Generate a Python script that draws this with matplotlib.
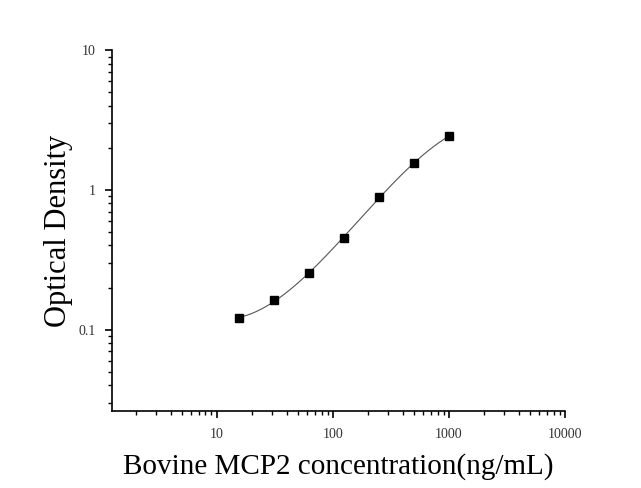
import numpy as np
import matplotlib
matplotlib.use("Agg")
import matplotlib.pyplot as plt
from matplotlib.ticker import LogLocator, FixedLocator, FixedFormatter, NullFormatter

# veriler
konsantrasyon = [15.6, 31.25, 62.5, 125, 250, 500, 1000]
od_degerleri = [0.121, 0.163, 0.253, 0.452, 0.895, 1.556, 2.42]

x_ticks = [10, 100, 1000, 10000]
x_tick_labels = ["10", "100", "1000", "10000"]
y_ticks = [0.1, 1, 10]
y_tick_labels = ["0.1", "1", "10"]

plt.rcParams["font.family"] = ["Liberation Serif", "DejaVu Serif"]

fig = plt.figure(figsize=(6.41, 4.88), dpi=100)
ax = fig.add_axes([112.3 / 641, 1 - 411 / 488, (565 - 112.3) / 641, (411 - 50.3) / 488])

# log-log uzayda yumuşak eğri (3. derece polinom uydurma)
lx = np.log10(konsantrasyon)
ly = np.log10(od_degerleri)
katsayi = np.polyfit(lx, ly, 3)
xx = np.linspace(lx.min(), lx.max(), 200)
ax.plot(10 ** xx, 10 ** np.polyval(katsayi, xx), color="#555555", linewidth=0.8)

ax.plot(konsantrasyon, od_degerleri, "s", color="black", markersize=6.2)

ax.set_xscale("log")
ax.set_yscale("log")
ax.set_xlim(1.26, 10000)
ax.set_ylim(0.0261, 10)

ax.xaxis.set_major_locator(FixedLocator(x_ticks))
ax.xaxis.set_major_formatter(FixedFormatter(x_tick_labels))
ax.yaxis.set_major_locator(FixedLocator(y_ticks))
ax.yaxis.set_major_formatter(FixedFormatter(y_tick_labels))
ax.xaxis.set_minor_locator(LogLocator(base=10, subs=np.arange(2, 10)))
ax.yaxis.set_minor_locator(LogLocator(base=10, subs=np.arange(2, 10)))
ax.xaxis.set_minor_formatter(NullFormatter())
ax.yaxis.set_minor_formatter(NullFormatter())

ax.spines["top"].set_visible(False)
ax.spines["right"].set_visible(False)
ax.spines["left"].set_linewidth(1.2)
ax.spines["bottom"].set_linewidth(1.2)
ax.tick_params(which="major", direction="out", length=5, width=1.2, labelsize=10, pad=7,
               labelcolor="#333333")
ax.tick_params(which="minor", direction="out", length=3, width=1.0)

ax.set_xlabel("Bovine MCP2 concentration(ng/mL)", fontsize=21, labelpad=9)
ax.set_ylabel("Optical Density", fontsize=22, labelpad=4)

fig.savefig("out.png", dpi=100)
